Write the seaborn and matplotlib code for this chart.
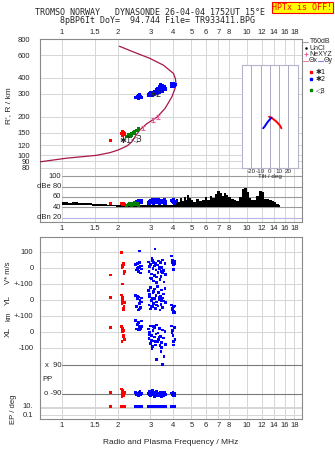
import numpy as np
import pandas as pd
import matplotlib
matplotlib.use("Agg")
import matplotlib.pyplot as plt
from matplotlib.lines import Line2D
from matplotlib.patches import Rectangle
import seaborn as sns

sns.set_style("white")
plt.rcParams["font.family"] = ["Liberation Sans", "DejaVu Sans"]
plt.rcParams["axes.linewidth"] = 0.8

# ---------------- data ----------------
freq_ticks = [1, 1.5, 2, 3, 4, 5, 6, 7, 8, 10, 12, 14, 16, 18]
freq_labels = ["1", "1.5", "2", "3", "4", "5", "6", "7", "8", "10", "12", "14", "16", "18"]
height_ticks = [80, 90, 100, 120, 150, 200, 300, 400, 600, 800]

# electron density profile (plasma frequency MHz, true height km)
prof_f = [0.76, 1.06, 1.54, 1.82, 2.01, 2.24, 2.38, 2.50, 2.64, 2.87, 3.25, 3.60, 3.92,
          4.08, 4.13, 4.10, 4.00, 3.53, 2.99, 2.43, 2.04]
prof_h = [89, 95, 100, 105, 110, 118, 127, 142, 158, 176, 197, 231, 284,
          330, 352, 392, 432, 501, 565, 635, 703]

# NeXYZ points with height uncertainty
nexyz_f = [2.73, 3.09, 3.31]
nexyz_h = [164, 188, 198]
nexyz_err = [6, 6, 6]

# echo class *1
red_f = [1.83, 2.10, 2.12, 2.14, 2.11, 2.16, 2.13, 2.15, 2.12, 2.17]
red_h = [131, 148, 142, 150, 145, 146, 152, 149, 144, 147]
red_db = [48, 47, 46, 47, 46, 45, 46, 47, 45, 46]
red_v = [-42, 97, 16, 30, 5, -31, -98, 22, 10, -20]
red_yl = [16, 33, -9, -61, -20, -35, 5, -50, 20, -15]
red_xl = [29, 35, 19, -17, -59, 10, 25, -30, 5, -45]
red_pp = [-83, -60, -75, -95, -108, -85, -70, -100, -90, -80]
red_ep = [12, 12, 11, 13, 11, 12, 11, 12, 13, 11]

# echo class *2
blue_f = [2.50, 2.53, 2.56, 2.58, 2.60, 2.62, 2.64, 2.66, 2.68, 2.70, 2.55, 2.63,
          2.92, 2.95, 2.98, 3.00, 3.02, 3.05, 3.07, 3.10, 3.12, 3.15, 3.17, 3.20,
          3.22, 3.25, 3.27, 3.30, 3.32, 3.35, 3.38, 3.40, 3.43, 3.45, 3.48, 3.50,
          3.53, 3.56, 3.60, 3.64, 2.96, 3.04, 3.13, 3.24, 3.34, 3.44, 3.06, 3.18,
          3.90, 3.95, 3.98, 4.00, 4.02, 4.05, 4.08, 3.93]
blue_h = [282, 280, 285, 290, 278, 295, 284, 288, 280, 283, 287, 281,
          296, 292, 300, 294, 305, 298, 292, 303, 296, 310, 300, 315,
          304, 322, 308, 330, 312, 340, 310, 355, 320, 335, 316, 348,
          325, 340, 330, 322, 300, 295, 305, 318, 322, 328, 302, 308,
          345, 355, 340, 350, 358, 348, 352, 362]
blue_db = [50, 52, 51, 53, 50, 54, 52, 51, 53, 50, 49, 52,
           48, 50, 52, 49, 53, 51, 55, 50, 48, 54, 52, 50,
           56, 49, 53, 51, 55, 50, 48, 52, 54, 49, 51, 53,
           50, 55, 48, 52, 47, 50, 53, 51, 49, 54, 52, 50,
           53, 51, 55, 50, 52, 48, 51, 54]
blue_v = [25, -10, 30, 5, -20, 35, 10, -30, 15, -5, 0, 108,
          40, -20, 10, -60, 25, -35, 50, 0, -80, 15, -45, 30,
          -10, -90, 20, -25, 45, -5, -70, 35, -50, 5, -30, 52,
          -15, -85, 28, -40, 12, -65, 38, -55, 8, -20, 60, 120,
          77, 50, 40, 25, -6, 45, 30, 35]
blue_yl = [30, -40, 10, -60, 20, -20, 0, -45, 15, -10, 25, -55,
           60, -30, 20, -55, 80, 0, -40, 45, -20, 70, 10, -50,
           30, -10, 85, -35, 50, 5, -60, 25, -25, 65, 15, -45,
           40, -5, 75, -15, 35, -40, 55, -30, 20, 0, 10, -50,
           -30, -50, -80, -40, -70, -35, -75, -60]
blue_xl = [75, 20, 50, 15, 60, 30, 40, 25, 70, 35, 45, 18,
           20, -40, 0, -70, 40, -20, -90, 10, -55, 30, -30, -80,
           -10, 45, -60, -5, -45, 25, -85, -25, -120, -65, 15, -200,
           -35, -150, 5, -75, -15, -50, 35, -170, -30, -95, -100, -60,
           40, 10, -20, -60, -79, 30, -45, 0]
blue_pp = [-82, -95, -88, -100, -85, -92, -78, -98, -90, -86, -94, -80,
           -88, -75, -95, -102, -84, -90, -70, -98, -86, -108, -80, -93,
           -89, -76, -99, -85, -104, -91, -82, -96, -87, -110, -79, -92,
           -88, -100, -84, -95, -90, -78, -97, -86, -103, -89, -81, -94,
           -85, -95, -80, -100, -90, -88, -105, -92]
blue_ep = [10, 11, 10, 12, 10, 11, 10, 10, 12, 10, 11, 10,
           11, 10, 12, 10, 11, 13, 10, 11, 10, 12, 10, 11,
           10, 12, 11, 10, 13, 10, 11, 10, 12, 10, 11, 10,
           12, 10, 11, 10, 10, 11, 12, 10, 11, 10, 12, 11,
           10, 11, 10, 12, 10, 11, 10, 10]

# echo class <3
green_f = [2.22, 2.28, 2.33, 2.38, 2.42, 2.47, 2.52, 2.56, 2.60, 2.36, 2.45]
green_h = [141, 144, 140, 147, 150, 148, 155, 157, 160, 142, 152]
green_db = [44, 46, 48, 43, 47, 49, 45, 47, 44, 48, 46]

# echo tilt (deg) versus height
tiltx_deg = [-0.8, 2.5, 7.2, 10.7, 12.5]
tiltx_h = [199, 194, 182, 171, 162]
tilty_deg = [-7.2, -5.4, -2.9, 0.0, 1.8]
tilty_h = [162, 168, 179, 190, 196]

# receiver noise band (dB)
noise_f = [1.00, 1.05, 1.10, 1.15, 1.20, 1.25, 1.30, 1.40, 1.50, 1.60, 1.70, 1.80, 1.90,
           2.00, 2.10, 2.20, 2.30, 2.40, 2.50, 2.60, 2.70, 2.80, 2.90, 3.00, 3.20, 3.40,
           3.60, 3.80, 4.00, 4.10, 4.20, 4.30, 4.40, 4.50, 4.60, 4.70, 4.80, 4.90, 5.00,
           5.20, 5.40, 5.60, 5.80, 6.00, 6.20, 6.40, 6.60, 6.80, 7.00, 7.20, 7.40, 7.60,
           7.80, 8.00, 8.30, 8.60, 8.90, 9.20, 9.50, 9.80, 10.1, 10.4, 10.7, 11.0, 11.4,
           11.8, 12.2, 12.6, 13.0, 13.4, 13.8, 14.2, 14.6, 15.0]
noise_hi = [50, 51, 49, 50, 50, 49, 48, 48, 47, 47, 46, 45, 45,
            44, 44, 45, 44, 44, 45, 44, 44, 45, 44, 44, 45, 44,
            45, 44, 45, 52, 56, 50, 58, 52, 60, 55, 63, 58, 54,
            50, 57, 52, 55, 60, 55, 62, 58, 66, 72, 68, 62, 67,
            63, 60, 57, 55, 52, 60, 76, 78, 70, 58, 55, 54, 62,
            72, 70, 57, 56, 55, 53, 50, 47, 45]
noise_lo = [45, 45, 45, 45, 44, 44, 44, 44, 43, 43, 43, 42, 42,
            41, 41, 41, 41, 41, 41, 41, 41, 41, 41, 41, 41, 41,
            41, 41, 41, 41, 41, 41, 41, 41, 41, 41, 41, 41, 41,
            41, 41, 41, 41, 41, 41, 41, 41, 41, 41, 41, 41, 41,
            41, 41, 41, 41, 41, 41, 41, 41, 41, 41, 41, 41, 41,
            41, 41, 41, 41, 41, 41, 41, 41, 41]

echoes = pd.DataFrame({
    "freq": red_f + blue_f + green_f,
    "height": red_h + blue_h + green_h,
    "amp": red_db + blue_db + green_db,
    "cls": ["*1"] * len(red_f) + ["*2"] * len(blue_f) + ["<3"] * len(green_f),
})
doppler = pd.DataFrame({
    "freq": red_f + blue_f,
    "vstar": red_v + blue_v,
    "yl": red_yl + blue_yl,
    "xl": red_xl + blue_xl,
    "pp": red_pp + blue_pp,
    "ep": red_ep + blue_ep,
    "cls": ["*1"] * len(red_f) + ["*2"] * len(blue_f),
})
palette = {"*1": "#ff0000", "*2": "#0000ff", "<3": "#008000"}

# ---------------- layout ----------------
W, H = 335, 451
fig = plt.figure(figsize=(W / 100, H / 100), dpi=100)
fig.patch.set_facecolor("white")


def box(x0, y0, x1, y1):
    return [x0 / W, 1 - y1 / H, (x1 - x0) / W, (y1 - y0) / H]


FRAME = "#8a8a8a"
GRID = "#d6d6d6"
XLIM = (0.76, 19.8)
TICKFONT = 5.5
# axes fraction where the 1 MHz line sits
F1 = (np.log10(1.0) - np.log10(XLIM[0])) / (np.log10(XLIM[1]) - np.log10(XLIM[0]))

ax_h = fig.add_axes(box(40, 39, 302, 172))
ax_db = fig.add_axes(box(40, 172, 302, 222))
ax_b = fig.add_axes(box(40, 236.7, 302, 419))

for ax in (ax_h, ax_db, ax_b):
    ax.set_xscale("log")
    ax.set_xlim(*XLIM)
    ax.set_xticks(freq_ticks)
    ax.set_xticklabels(freq_labels)
    ax.xaxis.set_minor_locator(plt.NullLocator())
    ax.tick_params(axis="x", length=0, labelsize=TICKFONT, pad=2)
    for x in freq_ticks:
        ax.axvline(x, color=GRID, lw=0.7, zorder=0)
    for s in ax.spines.values():
        s.set_color(FRAME)
    ax.set_facecolor("white")

# ---- height panel ----
ax_h.set_yscale("log")
ax_h.set_ylim(74.2, 797)
ax_h.set_yticks(height_ticks)
ax_h.set_yticklabels([str(v) for v in height_ticks])
ax_h.yaxis.set_minor_locator(plt.NullLocator())
ax_h.tick_params(axis="y", length=0, labelsize=TICKFONT, pad=7)
ax_h.tick_params(axis="x", labeltop=True, labelbottom=False)
for y in height_ticks:
    ax_h.axhline(y, color=GRID, lw=0.7, zorder=0)
ax_h.spines["bottom"].set_visible(False)
ax_h.set_ylabel("R', R / km", fontsize=6, labelpad=4)

sns.lineplot(x=prof_f, y=prof_h, sort=False, ax=ax_h, color="#a8164a", lw=0.9,
             estimator=None, zorder=3)
ax_h.errorbar(nexyz_f, nexyz_h, yerr=nexyz_err, fmt="none", ecolor="#e8609a",
              elinewidth=0.8, capsize=1.5, capthick=0.8, zorder=4)
sns.scatterplot(data=echoes, x="freq", y="height", hue="cls", palette=palette,
                marker="s", s=5, linewidth=0, legend=False, ax=ax_h, zorder=5)
ax_h.text(2.2, 131, "\u27311", fontsize=6, ha="center", va="center", zorder=6,
          family=["DejaVu Sans"])
ax_h.text(2.52, 136, "\u25c13", fontsize=6, ha="center", va="center", zorder=6,
          family=["DejaVu Sans"])
ax_h.text(3.2, 297, "\u27312", fontsize=6, ha="center", va="center", zorder=6,
          family=["DejaVu Sans"])
ax_h.set_xlabel("")

# ---- amplitude panel ----
ax_db.set_ylim(11.5, 108.5)
ax_db.set_yticks([])
ax_db.spines["top"].set_visible(False)
for y in (100, 80, 60, 40):
    ax_db.axhline(y, xmin=F1, color="#9a9a9a", lw=0.8, zorder=1)
ax_db.axhline(20, xmin=F1, color="#b4b4e6", lw=0.8, zorder=1)
for y, lab in zip((100, 80, 60, 40, 20), ("100", "dBe 80", "60", "40", "dBn 20")):
    ax_db.text(F1 - 0.004, y, lab, fontsize=TICKFONT, ha="right", va="center",
               transform=ax_db.get_yaxis_transform())
ax_db.fill_between(noise_f, noise_lo, noise_hi, step="mid", color="black", lw=0, zorder=2)
sns.scatterplot(data=echoes, x="freq", y="amp", hue="cls", palette=palette,
                marker="s", s=5, linewidth=0, legend=False, ax=ax_db, zorder=3)
ax_db.set_xlabel("")
ax_db.set_ylabel("")

# ---- tilt inset ----
ax_t = fig.add_axes(box(241.7, 65, 298, 168))
ax_t.set_facecolor("white")
ax_t.set_xlim(-30.4, 30.4)
ax_t.set_yscale("log")
ax_t.set_ylim(79.7, 501)
ax_t.set_yticks([])
ax_t.yaxis.set_minor_locator(plt.NullLocator())
ax_t.set_xticks([-20, -10, 0, 10, 20])
ax_t.set_xticklabels(["-20", "-10", "0", "10", "20"])
ax_t.tick_params(axis="x", length=0, labelsize=4.5, pad=1)
for x in (-20, -10, 0, 10, 20):
    ax_t.axvline(x, color="#a9a9c2", lw=0.7, zorder=0)
for s in ax_t.spines.values():
    s.set_color("#b4b4cc")
ax_t.set_xlabel("Tilt / deg", fontsize=4.5, labelpad=0)
sns.lineplot(x=tiltx_deg, y=tiltx_h, sort=False, estimator=None, ax=ax_t,
             color="#ff0000", lw=1.4)
sns.lineplot(x=tilty_deg, y=tilty_h, sort=False, estimator=None, ax=ax_t,
             color="#0000ff", lw=1.4)
ax_t.set_ylabel("")

# ---- doppler / polarisation panel ----
ax_b.set_ylim(-942, 197.5)
ax_b.set_yticks([])
ax_b.set_xlabel("Radio and Plasma Frequency / MHz", fontsize=6, labelpad=7)
for y in (100, 0, -100, -200, -300, -400, -500, -865, -876, -917):
    ax_b.axhline(y, color=GRID, lw=0.7, zorder=0)
ax_b.axhline(-606, xmin=F1, color="#7a7a7a", lw=0.8, zorder=1)
ax_b.axhline(-784, xmin=F1, color="#7a7a7a", lw=0.8, zorder=1)

ytr = ax_b.get_yaxis_transform()
for y, lab in zip((100, 0, -100, -200, -300, -400, -500, -865, -917),
                  ("100", "0", "+-100", "0", "+-100", "0", "-100", "10.", "0.1")):
    ax_b.text(-0.025, y, lab, fontsize=TICKFONT, ha="right", va="center", transform=ytr)
ax_b.text(F1 - 0.004, -606, "x  90", fontsize=TICKFONT, ha="right", va="center", transform=ytr)
ax_b.text(F1 - 0.004, -784, "o -90", fontsize=TICKFONT, ha="right", va="center", transform=ytr)
ax_b.text(0.01, -695, "PP", fontsize=TICKFONT, ha="left", va="center", transform=ytr)
ax_b.text(-0.12, -30, "V* m/s", fontsize=5.5, rotation=90, ha="center", va="center", transform=ytr)
ax_b.text(-0.12, -200, "YL", fontsize=6, rotation=90, ha="center", va="center", transform=ytr)
ax_b.text(-0.12, -300, "km", fontsize=5, rotation=90, ha="center", va="center", transform=ytr)
ax_b.text(-0.12, -400, "XL", fontsize=6, rotation=90, ha="center", va="center", transform=ytr)
ax_b.text(-0.10, -880, "EP / deg", fontsize=5.5, rotation=90, ha="center", va="center", transform=ytr)

bands = pd.concat([
    pd.DataFrame({"freq": doppler["freq"], "y": doppler["vstar"], "cls": doppler["cls"]}),
    pd.DataFrame({"freq": doppler["freq"], "y": doppler["yl"] - 200, "cls": doppler["cls"]}),
    pd.DataFrame({"freq": doppler["freq"], "y": doppler["xl"] - 400, "cls": doppler["cls"]}),
    pd.DataFrame({"freq": doppler["freq"], "y": -695 + doppler["pp"] * 0.989, "cls": doppler["cls"]}),
    pd.DataFrame({"freq": doppler["freq"], "y": -891 + 26 * np.log10(doppler["ep"]), "cls": doppler["cls"]}),
], ignore_index=True)
sns.scatterplot(data=bands, x="freq", y="y", hue="cls", palette=palette,
                marker="s", s=4, linewidth=0, legend=False, ax=ax_b, zorder=3)
ax_b.set_ylabel("")

# ---- header ----
mono = ["DejaVu Sans Mono"]
fig.text(35 / W, 1 - 12.3 / H, "TROMSO NORWAY   DYNASONDE 26-04-04 1752UT 15\u00b0E",
         fontsize=6, family=mono, ha="left", va="center")
fig.text(60 / W, 1 - 20.7 / H, "8pBP6It DoY=  94.744 File= TR933411.BPG",
         fontsize=6, family=mono, ha="left", va="center")
fig.add_artist(Rectangle((272 / W, 1 - 12.5 / H), 61 / W, 10.5 / H, transform=fig.transFigure,
                         facecolor="#ffff00", edgecolor="#ff0000", lw=0.8))
fig.text(302.5 / W, 1 - 7.3 / H, "HPTx is OFF!", fontsize=6, family=mono, color="#ff0000",
         ha="center", va="center")

# ---- key ----
def fy(y):
    return 1 - y / H


def fx(x):
    return x / W


KF = 5
fig.add_artist(Line2D([fx(303), fx(308)], [fy(41.7)] * 2, color="#a0a0a0", lw=0.8))
fig.text(fx(309.5), fy(41.7), "T60dB", fontsize=KF, va="center")
fig.add_artist(Line2D([fx(306)], [fy(48.3)], marker="o", ms=0.8, color="black", lw=0))
fig.text(fx(309.5), fy(48.3), "UnCl", fontsize=KF, va="center")
fig.add_artist(Line2D([fx(306)], [fy(54.3)], marker="+", ms=3, mew=0.7, color="#e8609a", lw=0))
fig.text(fx(309.5), fy(54.3), "NeXYZ", fontsize=KF, va="center")
fig.add_artist(Line2D([fx(303), fx(308)], [fy(60.7)] * 2, color="#f080a0", lw=0.8))
fig.text(fx(308.5), fy(60.7), "\u0398x", fontsize=KF, va="center")
fig.add_artist(Line2D([fx(318), fx(323)], [fy(60.7)] * 2, color="#8080f0", lw=0.8))
fig.text(fx(323.5), fy(60.7), "\u0398y", fontsize=KF, va="center")
for y, cls, lab in ((72.3, "*1", "\u27311"), (79.3, "*2", "\u27312"), (90.0, "<3", "\u25c13")):
    fig.add_artist(Line2D([fx(311)], [fy(y)], marker="s", ms=2, color=palette[cls], lw=0))
    fig.text(fx(315.5), fy(y), lab, fontsize=5, va="center", family=["DejaVu Sans"])

fig.savefig("out.png", dpi=100)
